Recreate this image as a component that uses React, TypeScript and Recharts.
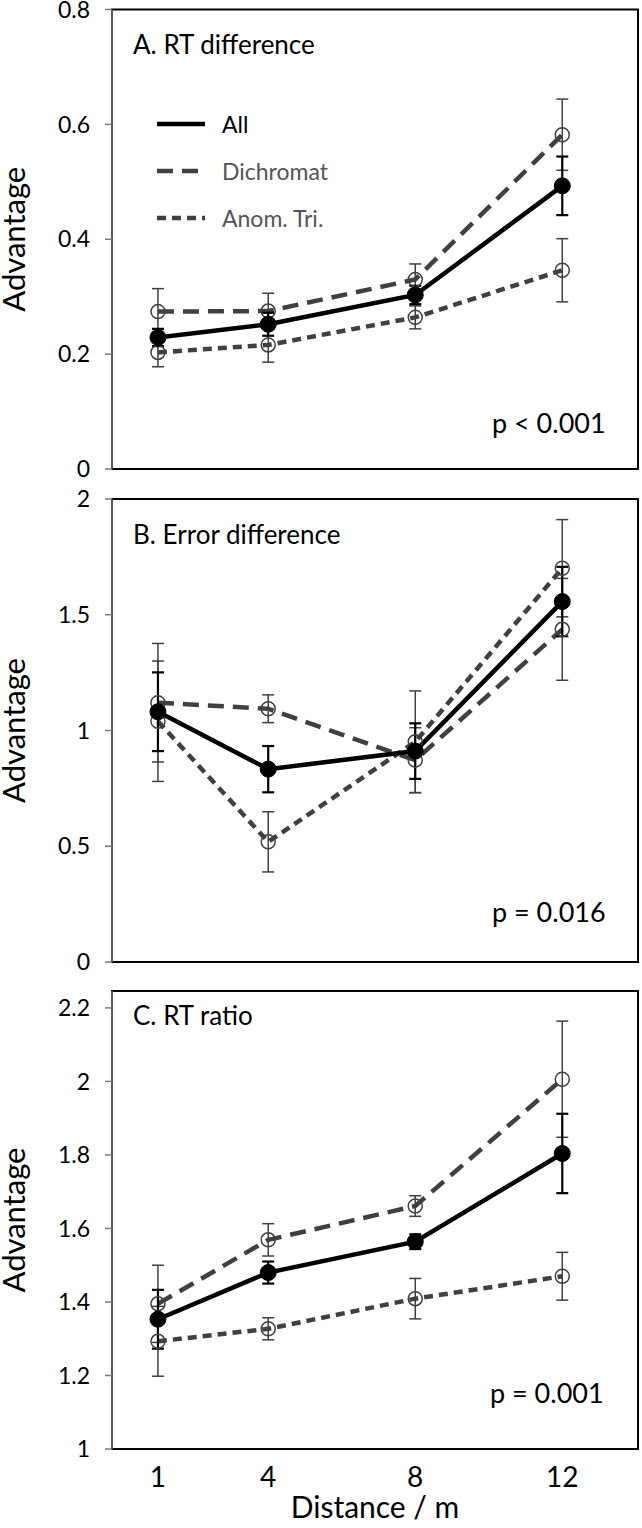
import React from 'react';
import { LineChart, Line, XAxis, YAxis, ErrorBar, ReferenceArea, Legend, Label } from 'recharts';

// ---------- data ----------
const distances = [1, 4, 8, 12];
const xTicks = [1, 4, 8, 12];
const seriesNames = ['All', 'Dichromat', 'Anom. Tri.'];

// Panel A: RT difference
const rtDiffAll = [0.229, 0.252, 0.303, 0.493];
const rtDiffAllErr = [0.015, 0.02, 0.016, 0.051];
const rtDiffDich = [0.274, 0.275, 0.33, 0.582];
const rtDiffDichErr = [0.04, 0.031, 0.027, 0.062];
const rtDiffAnom = [0.203, 0.216, 0.264, 0.346];
const rtDiffAnomErr = [0.025, 0.03, 0.02, 0.055];

// Panel B: Error difference
const errDiffAll = [1.081, 0.833, 0.911, 1.557];
const errDiffAllErr = [0.17, 0.1, 0.12, 0.15];
const errDiffDich = [1.12, 1.094, 0.872, 1.437];
const errDiffDichErr = [0.256, 0.06, 0.14, 0.22];
const errDiffAnom = [1.04, 0.519, 0.951, 1.701];
const errDiffAnomErr = [0.26, 0.13, 0.22, 0.21];

// Panel C: RT ratio
const rtRatioAll = [1.353, 1.48, 1.564, 1.804];
const rtRatioAllErr = [0.08, 0.03, 0.02, 0.108];
const rtRatioDich = [1.395, 1.569, 1.661, 2.006];
const rtRatioDichErr = [0.105, 0.044, 0.028, 0.158];
const rtRatioAnom = [1.293, 1.327, 1.409, 1.47];
const rtRatioAnomErr = [0.095, 0.03, 0.055, 0.065];

const panelTitles = ['A. RT difference', 'B. Error difference', 'C. RT ratio'];
const pValues = ['p < 0.001', 'p = 0.016', 'p = 0.001'];
const yTicksA = [0, 0.2, 0.4, 0.6, 0.8];
const yTicksB = [0, 0.5, 1, 1.5, 2];
const yTicksC = [1, 1.2, 1.4, 1.6, 1.8, 2, 2.2];
const yDomainA = [0, 0.8];
const yDomainB = [0, 2];
const yDomainC = [1, 2.246];
const xDomain = [-0.25, 14.06];
const yLabel = 'Advantage';
const xLabel = 'Distance / m';

function buildRows(all: number[], allErr: number[], dich: number[], dichErr: number[], anom: number[], anomErr: number[]) {
  return distances.map((d, i) => ({
    d,
    all: all[i],
    allErr: allErr[i],
    dich: dich[i],
    dichErr: dichErr[i],
    anom: anom[i],
    anomErr: anomErr[i],
  }));
}

const dataA = buildRows(rtDiffAll, rtDiffAllErr, rtDiffDich, rtDiffDichErr, rtDiffAnom, rtDiffAnomErr);
const dataB = buildRows(errDiffAll, errDiffAllErr, errDiffDich, errDiffDichErr, errDiffAnom, errDiffAnomErr);
const dataC = buildRows(rtRatioAll, rtRatioAllErr, rtRatioDich, rtRatioDichErr, rtRatioAnom, rtRatioAnomErr);

// ---------- styles ----------
const FONT = 'Lato, Carlito, "Open Sans", sans-serif';
const GRAY = '#404040';
const AXIS_GRAY = '#7a7a7a';
const DASH_LONG = '16 9';
const DASH_SHORT = '9 6';

const LegendContent = () => {
  const items = [
    { name: seriesNames[0], dash: undefined as string | undefined, color: '#000', text: '#000' },
    { name: seriesNames[1], dash: DASH_LONG, color: GRAY, text: '#555' },
    { name: seriesNames[2], dash: DASH_SHORT, color: GRAY, text: '#555' },
  ];
  return (
    <div style={{ fontFamily: FONT }}>
      {items.map((it, i) => (
        <div key={i} style={{ display: 'flex', alignItems: 'center', height: 47 }}>
          <svg width={48} height={10} style={{ marginRight: 17, flex: 'none' }}>
            <line x1={0} y1={5} x2={48} y2={5} stroke={it.color} strokeWidth={4.5} strokeDasharray={it.dash} />
          </svg>
          <span style={{ fontSize: 23, color: it.text, whiteSpace: 'nowrap' }}>{it.name}</span>
        </div>
      ))}
    </div>
  );
};

type PanelProps = {
  top: number;
  height: number;
  margin: { top: number; right: number; bottom: number; left: number };
  data: any[];
  yDomain: number[];
  yTicks: number[];
  showX: boolean;
  xAxisHeight: number;
  legend?: boolean;
};

const Panel = ({ top, height, margin, data, yDomain, yTicks, showX, xAxisHeight, legend }: PanelProps) => (
  <div style={{ position: 'absolute', left: 0, top }}>
    <LineChart width={642} height={height} data={data} margin={margin}>
      <XAxis
        dataKey="d"
        type="number"
        domain={xDomain}
        ticks={xTicks}
        allowDataOverflow
        hide={!showX}
        height={xAxisHeight}
        axisLine={false}
        tickLine={false}
        tickSize={6}
        tickMargin={12}
        tick={{ fontSize: 28, fill: '#000', fontFamily: FONT }}
      >
        {showX && (
          <Label
            content={(props: any) => {
              const vb = props.viewBox || { x: 0, y: 0, width: 0 };
              return (
                <text
                  x={vb.x + vb.width / 2}
                  y={vb.y + 69}
                  textAnchor="middle"
                  fontSize={30}
                  fontFamily={FONT}
                  fill="#000"
                >
                  {xLabel}
                </text>
              );
            }}
          />
        )}
      </XAxis>
      <YAxis
        type="number"
        domain={yDomain}
        ticks={yTicks}
        allowDataOverflow
        width={112}
        interval={0}
        axisLine={{ stroke: AXIS_GRAY, strokeWidth: 1.5 }}
        tickLine={{ stroke: AXIS_GRAY, strokeWidth: 1.5 }}
        tickSize={7}
        tickMargin={15}
        tick={{ fontSize: 23, fill: '#000', fontFamily: FONT }}
      >
        <Label
          content={(props: any) => {
            const vb = props.viewBox || { x: 0, y: 0, height: 0 };
            const cx = 25;
            const cy = vb.y + vb.height / 2;
            return (
              <text
                x={cx}
                y={cy}
                transform={`rotate(-90, ${cx}, ${cy})`}
                textAnchor="middle"
                fontSize={31}
                fontFamily={FONT}
                fill="#000"
              >
                {yLabel}
              </text>
            );
          }}
        />
      </YAxis>
      <ReferenceArea
        x1={xDomain[0]}
        x2={xDomain[1]}
        y1={yDomain[0]}
        y2={yDomain[1]}
        fill="none"
        fillOpacity={0}
        stroke="#000"
        strokeWidth={2}
        ifOverflow="visible"
      />
      {legend && (
        <Legend
          layout="vertical"
          align="center"
          verticalAlign="middle"
          content={() => <LegendContent />}
          wrapperStyle={{ position: 'absolute', left: 157, top: 100.5, width: 220 }}
        />
      )}
      <Line
        type="linear"
        dataKey="dich"
        name={seriesNames[1]}
        stroke={GRAY}
        strokeWidth={4.5}
        strokeDasharray={DASH_LONG}
        dot={{ r: 7, fill: 'none', stroke: GRAY, strokeWidth: 1.5, strokeDasharray: '' }}
        isAnimationActive={false}
      >
        <ErrorBar dataKey="dichErr" direction="y" width={6} stroke={GRAY} strokeWidth={1.5} />
      </Line>
      <Line
        type="linear"
        dataKey="anom"
        name={seriesNames[2]}
        stroke={GRAY}
        strokeWidth={4.5}
        strokeDasharray={DASH_SHORT}
        dot={{ r: 7, fill: 'none', stroke: GRAY, strokeWidth: 1.5, strokeDasharray: '' }}
        isAnimationActive={false}
      >
        <ErrorBar dataKey="anomErr" direction="y" width={6} stroke={GRAY} strokeWidth={1.5} />
      </Line>
      <Line
        type="linear"
        dataKey="all"
        name={seriesNames[0]}
        stroke="#000"
        strokeWidth={4.5}
        dot={{ r: 8, fill: '#000', stroke: '#000', strokeWidth: 1 }}
        isAnimationActive={false}
      >
        <ErrorBar dataKey="allErr" direction="y" width={6} stroke="#000" strokeWidth={2.2} />
      </Line>
    </LineChart>
  </div>
);

const textStyle: React.CSSProperties = {
  position: 'absolute',
  fontFamily: FONT,
  color: '#000',
  whiteSpace: 'nowrap',
  lineHeight: 1,
};

export default function App() {
  return (
    <div style={{ position: 'absolute', left: 0, top: 0, width: 642, height: 1528, background: '#fff', overflow: 'hidden' }}>
      <Panel
        top={0}
        height={484}
        margin={{ top: 9.5, right: 4, bottom: 15, left: 0 }}
        data={dataA}
        yDomain={yDomainA}
        yTicks={yTicksA}
        showX={false}
        xAxisHeight={0}
        legend
      />
      <Panel
        top={485}
        height={490}
        margin={{ top: 14, right: 4, bottom: 13, left: 0 }}
        data={dataB}
        yDomain={yDomainB}
        yTicks={yTicksB}
        showX={false}
        xAxisHeight={0}
      />
      <Panel
        top={980}
        height={548}
        margin={{ top: 11, right: 4, bottom: 0, left: 0 }}
        data={dataC}
        yDomain={yDomainC}
        yTicks={yTicksC}
        showX
        xAxisHeight={79}
      />
      <div style={{ ...textStyle, left: 133, top: 31, fontSize: 26 }}>{panelTitles[0]}</div>
      <div style={{ ...textStyle, left: 133, top: 521, fontSize: 26 }}>{panelTitles[1]}</div>
      <div style={{ ...textStyle, left: 133, top: 1002, fontSize: 26 }}>{panelTitles[2]}</div>
      <div style={{ ...textStyle, left: 492, top: 409, fontSize: 27 }}>{pValues[0]}</div>
      <div style={{ ...textStyle, left: 492, top: 898, fontSize: 27 }}>{pValues[1]}</div>
      <div style={{ ...textStyle, left: 490, top: 1379, fontSize: 27 }}>{pValues[2]}</div>
    </div>
  );
}
